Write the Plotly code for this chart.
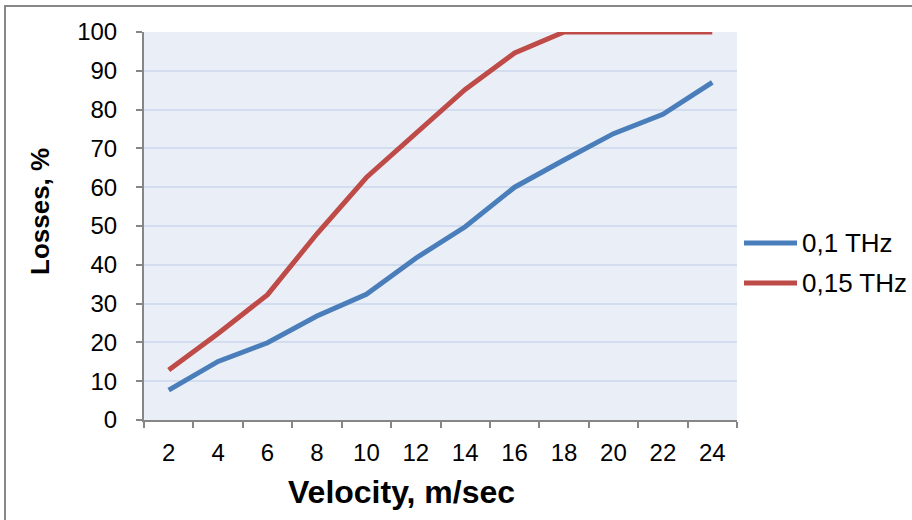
import plotly.graph_objects as go

velocity = ["2", "4", "6", "8", "10", "12", "14", "16", "18", "20", "22", "24"]
loss_01 = [7.7, 15.1, 19.9, 26.8, 32.4, 41.7, 49.8, 60.0, 67.0, 73.8, 78.8, 87.0]
loss_015 = [12.9, 22.3, 32.3, 48.0, 62.5, 73.7, 85.2, 94.6, 100, 100, 100, 100]
series_names = ["0,1 THz", "0,15 THz"]
colors = ["#4a7ebb", "#be4b48"]

W, H = 912, 520
L, R, T, B = 144, 175, 32, 100
pw, ph = W - L - R, H - T - B

def px(x):
    return (x - L) / pw

def py(y):
    return (H - B - y) / ph

FONT = "Arial, Liberation Sans, sans-serif"

fig = go.Figure()
for name, vals, c in zip(series_names, [loss_01, loss_015], colors):
    fig.add_trace(go.Scatter(x=velocity, y=vals, mode="lines", name=name,
                             line=dict(color=c, width=5), showlegend=False))

fig.update_layout(
    width=W, height=H,
    margin=dict(l=L, r=R, t=T, b=B, autoexpand=False),
    paper_bgcolor="white",
    plot_bgcolor="#eaeff7",
    font=dict(family=FONT, color="black"),
    xaxis=dict(type="category", tickson="boundaries", ticks="outside", ticklen=6,
               range=[-0.5, len(velocity) - 0.5],
               tickwidth=2, tickcolor="#868686", showline=True, linecolor="#868686",
               linewidth=2, showgrid=False, tickfont=dict(size=24),
               ticklabelstandoff=10, zeroline=False),
    yaxis=dict(range=[0, 100], dtick=10, ticks="outside", ticklen=6, tickwidth=2,
               tickcolor="#868686", showline=True, linecolor="#868686", linewidth=2,
               gridcolor="#d2ddef", gridwidth=1.5, tickfont=dict(size=24),
               ticklabelstandoff=14, zeroline=False),
)

# axis titles
fig.add_annotation(text="<b>Velocity, m/sec</b>", xref="paper", yref="paper",
                   x=px(401), y=py(492), showarrow=False, font=dict(size=32),
                   xanchor="center", yanchor="middle")
fig.add_annotation(text="<b>Losses, %</b>", xref="paper", yref="paper",
                   x=px(40), y=py(212), showarrow=False, font=dict(size=26),
                   textangle=-90, xanchor="center", yanchor="middle")

# legend
for i, (name, c) in enumerate(zip(series_names, colors)):
    yy = 243 + 40 * i
    fig.add_shape(type="line", xref="paper", yref="paper", x0=px(744), x1=px(797),
                  y0=py(yy), y1=py(yy), line=dict(color=c, width=5))
    fig.add_annotation(text=name, xref="paper", yref="paper", x=px(800), y=py(yy),
                       showarrow=False, font=dict(size=26), xanchor="left",
                       yanchor="middle")

# outer border
fig.add_shape(type="rect", xref="paper", yref="paper", x0=px(5), x1=px(930),
              y0=py(540), y1=py(6), line=dict(color="#888888", width=2),
              layer="below")

fig.write_html("out.html", config={"displayModeBar": False},
               post_script="document.body.style.margin='0';document.body.style.overflow='hidden';")
